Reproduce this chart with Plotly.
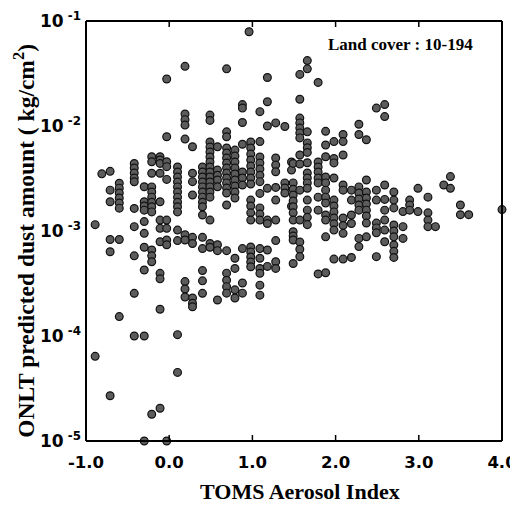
import math
import plotly.graph_objects as go

# TOMS Aerosol Index value for each vertical column of points
ai_columns = [-0.89, -0.81, -0.71, -0.60, -0.42, -0.30, -0.21, -0.11, -0.03, 0.10,
              0.19, 0.28, 0.40, 0.49, 0.58, 0.69, 0.79, 0.88, 0.96, 0.98,
              1.09, 1.18, 1.28, 1.39, 1.47, 1.49, 1.57, 1.66, 1.79, 1.88,
              1.98, 2.09, 2.19, 2.28, 2.37, 2.49, 2.59, 2.70, 2.81, 2.89,
              2.99, 3.11, 3.20, 3.30, 3.38, 3.50, 3.60, 4.00]

# ONLT predicted dust amount (kg/cm2) of the points in each column
dust_columns = [
    [1.15e-3, 6.4e-5],
    [3.5e-3],
    [3.7e-3, 2.45e-3, 1.9e-3, 8.3e-4, 6.35e-4, 2.7e-5],
    [2.85e-3, 2.56e-3, 2.3e-3, 2.06e-3, 1.85e-3, 1.65e-3, 8.3e-4, 1.53e-4],
    [4.4e-3, 3.98e-3, 3.57e-3, 3.2e-3, 2.94e-3, 1.64e-3, 1.1e-3, 5.8e-4, 2.55e-4, 1.0e-4],
    [2.64e-3, 1.9e-3, 1.73e-3, 1.58e-3, 1.23e-3, 9.5e-4, 7.0e-4, 4.25e-4, 1.0e-4, 1.0e-5],
    [5.1e-3, 4.57e-3, 3.55e-3, 2.63e-3, 2.35e-3, 2.1e-3, 1.88e-3, 1.7e-3, 1.52e-3,
     6.6e-4, 5.8e-4, 5.1e-4, 1.8e-5],
    [5.1e-3, 4.75e-3, 4.4e-3, 3.55e-3, 1.9e-3, 1.27e-3, 1.06e-3, 7.9e-4, 3.95e-4,
     3.5e-4, 1.8e-4, 2.05e-5],
    [2.8e-2, 7.9e-3, 4.57e-3, 4.1e-3, 3.1e-3, 1.27e-3, 1.06e-3, 8.2e-4, 7.4e-4, 1.0e-5],
    [4.07e-3, 3.65e-3, 3.27e-3, 2.93e-3, 2.63e-3, 2.35e-3, 2.1e-3, 1.88e-3, 1.7e-3,
     1.52e-3, 1.02e-3, 8.1e-4, 1.03e-4, 4.5e-5],
    [3.7e-2, 1.3e-2, 1.15e-2, 1.02e-2, 7.5e-3, 9.2e-4, 8.2e-4, 3.3e-4, 2.8e-4, 2.35e-4],
    [6.35e-3, 3.55e-3, 2.95e-3, 2.2e-3, 8.7e-4, 7.6e-4, 2.3e-4, 2.05e-4, 1.9e-4],
    [4.07e-3, 3.65e-3, 3.27e-3, 2.93e-3, 2.63e-3, 2.35e-3, 2.1e-3, 1.88e-3, 1.7e-3,
     1.42e-3, 8.7e-4, 6.8e-4, 4.2e-4, 3.35e-4, 2.55e-4],
    [1.27e-2, 1.13e-2, 7.04e-3, 6.3e-3, 5.65e-3, 5.07e-3, 4.54e-3, 4.07e-3, 3.65e-3,
     3.27e-3, 2.93e-3, 2.63e-3, 2.35e-3, 2.1e-3, 1.27e-3, 7.6e-4, 7.0e-4],
    [6.35e-3, 3.8e-3, 3.4e-3, 3.06e-3, 2.64e-3, 7.4e-4, 6.5e-4, 2.2e-4],
    [3.5e-2, 8.8e-3, 7.9e-3, 6.17e-3, 5.53e-3, 4.96e-3, 4.44e-3, 3.98e-3, 3.57e-3,
     3.2e-3, 2.87e-3, 2.57e-3, 2.3e-3, 1.77e-3, 6.5e-4, 3.97e-4, 3.4e-4, 2.95e-4, 2.56e-4],
    [5.9e-3, 5.18e-3, 4.54e-3, 3.98e-3, 3.49e-3, 3.06e-3, 2.68e-3, 2.35e-3, 2.06e-3,
     5.5e-4, 4.4e-4, 2.75e-4, 2.3e-4],
    [1.6e-2, 1.48e-2, 1.08e-2, 6.7e-3, 3.65e-3, 3.2e-3, 2.74e-3, 6.8e-4, 3.2e-4, 2.56e-4],
    [7.9e-2],
    [7.04e-3, 6.17e-3, 5.4e-3, 4.75e-3, 4.16e-3, 3.65e-3, 3.2e-3, 2.8e-3, 1.97e-3,
     1.73e-3, 1.49e-3, 1.27e-3, 7.05e-4, 6.3e-4, 5.65e-4, 5.07e-4, 4.57e-4],
    [1.37e-2, 7.1e-3, 5.07e-3, 4.44e-3, 3.9e-3, 3.4e-3, 2.95e-3, 2.28e-3, 1.66e-3,
     1.45e-3, 1.27e-3, 6.8e-4, 5.5e-4, 4.4e-4, 3.95e-4, 3.05e-4, 2.45e-4],
    [2.9e-2, 1.7e-2, 1.0e-2, 2.55e-3, 1.27e-3, 1.18e-3, 6.6e-4, 4.6e-4],
    [1.07e-2, 4.96e-3, 4.25e-3, 3.67e-3, 2.6e-3, 1.97e-3, 1.27e-3, 8.1e-4, 5.1e-4, 4.4e-4],
    [9.9e-3, 2.87e-3, 2.57e-3, 2.3e-3],
    [4.54e-3, 3.8e-3, 1.72e-3],
    [4.4e-3, 2.87e-3, 2.5e-3, 2.2e-3, 1.93e-3, 1.7e-3, 1.49e-3, 1.27e-3, 9.85e-4,
     8.95e-4, 8.2e-4, 4.9e-4],
    [3.1e-2, 1.8e-2, 1.19e-2, 1.07e-2, 9.55e-3, 8.6e-3, 7.7e-3, 5.3e-3, 4.35e-3,
     2.45e-3, 1.27e-3, 7.85e-4, 6.7e-4, 5.7e-4],
    [4.2e-2, 3.5e-2, 8.8e-3, 6.9e-3, 6.2e-3, 5.6e-3, 4.47e-3, 3.57e-3, 3.2e-3, 2.87e-3,
     2.55e-3, 1.97e-3, 1.58e-3, 1.35e-3, 1.15e-3],
    [2.6e-2, 4.54e-3, 4.07e-3, 3.65e-3, 3.2e-3, 2.87e-3, 2.1e-3, 1.58e-3, 3.9e-4],
    [8.9e-3, 6.6e-3, 5.1e-3, 3.27e-3, 2.87e-3, 2.45e-3, 2.1e-3, 1.85e-3, 1.42e-3,
     1.27e-3, 8.8e-4, 4.0e-4],
    [7.1e-3, 4.9e-3, 4.45e-3, 3.2e-3, 1.97e-3, 1.73e-3, 1.52e-3, 1.33e-3, 1.17e-3,
     1.02e-3, 5.4e-4],
    [8.3e-3, 7.1e-3, 5.3e-3, 2.74e-3, 2.45e-3, 1.33e-3, 1.13e-3, 9.5e-4, 5.4e-4],
    [2.45e-3, 1.97e-3, 1.42e-3, 1.18e-3, 5.6e-4],
    [1.04e-2, 8.3e-3, 2.63e-3, 2.3e-3, 2.02e-3, 1.77e-3, 1.58e-3, 8.5e-4, 7.1e-4],
    [7.4e-3, 3.06e-3, 2.35e-3, 2.06e-3, 1.81e-3, 1.58e-3, 1.39e-3, 1.19e-3, 8.8e-4],
    [1.48e-2, 2.45e-3, 1.97e-3, 1.19e-3, 1.07e-3, 9.6e-4, 5.7e-4],
    [1.6e-2, 1.23e-2, 2.74e-3, 2.0e-3, 1.58e-3, 1.27e-3, 1.02e-3, 7.9e-4],
    [2.35e-3, 1.97e-3, 1.66e-3, 1.14e-3, 1.0e-3, 8.8e-4, 7.35e-4, 6.4e-4, 5.6e-4],
    [1.53e-3, 1.1e-3, 8.5e-4],
    [1.97e-3, 1.77e-3, 1.58e-3],
    [2.55e-3, 1.53e-3],
    [2.1e-3, 1.49e-3, 1.27e-3, 1.1e-3],
    [1.1e-3],
    [2.74e-3],
    [3.3e-3, 2.55e-3],
    [1.77e-3, 1.43e-3],
    [1.43e-3],
    [1.6e-3],
]

x_tick_vals = [-1, 0, 1, 2, 3, 4]
x_tick_text = ["<b>%s</b>" % t for t in ["-1.0", "0.0", "1.0", "2.0", "3.0", "4.0"]]
y_decades = [-5, -4, -3, -2, -1]
y_tick_vals = [10.0 ** d for d in y_decades]
y_tick_text = ["<b>10<sup> %d</sup></b>" % d for d in y_decades]
y_minor_vals = [m * 10.0 ** d for d in y_decades[:-1] for m in range(2, 10)]

xs, ys = [], []
for ai, col in zip(ai_columns, dust_columns):
    for v in col:
        xs.append(ai)
        ys.append(v)

fig = go.Figure()
fig.add_trace(go.Scatter(
    x=xs, y=ys, mode="markers", cliponaxis=False,
    marker=dict(size=7.8, color="#5c5c5c", line=dict(color="#111111", width=1.2)),
    showlegend=False,
))

# frame and tick marks as line shapes (ticks anchored on the axis values)
ink = dict(color="black", width=2)
shapes = [
    dict(type="line", xref="paper", yref="paper", x0=0, x1=1, y0=0, y1=0, line=ink),
    dict(type="line", xref="paper", yref="paper", x0=0, x1=1, y0=1, y1=1, line=ink),
    dict(type="line", xref="paper", yref="paper", x0=0, x1=0, y0=0, y1=1, line=ink),
    dict(type="line", xref="paper", yref="paper", x0=1, x1=1, y0=0, y1=1, line=ink),
]
for xv in x_tick_vals[1:-1]:
    for anchor, sign in ((0, 1), (1, -1)):
        shapes.append(dict(type="line", xref="x", yref="paper", ysizemode="pixel",
                           yanchor=anchor, x0=xv, x1=xv, y0=0, y1=6 * sign,
                           line=dict(color="black", width=1.5)))
for yv, ln, w in ([(v, 7, 1.5) for v in y_tick_vals[1:-1]] +
                  [(v, 4, 1.0) for v in y_minor_vals]):
    for anchor, sign in ((0, 1), (1, -1)):
        shapes.append(dict(type="line", xref="paper", yref="y", xsizemode="pixel",
                           xanchor=anchor, x0=0, x1=ln * sign,
                           y0=math.log10(yv), y1=math.log10(yv),
                           line=dict(color="black", width=w)))

# the page body has an 8px default margin, so the figure is 8px smaller
fig.update_layout(
    width=510, height=507,
    margin=dict(l=78, r=15.5, t=13, b=73.5, pad=0),
    paper_bgcolor="white", plot_bgcolor="white",
    xaxis=dict(
        range=[-1, 4], tickmode="array", tickvals=x_tick_vals, ticktext=x_tick_text,
        ticks="", showline=False, showgrid=False, zeroline=False,
        tickfont=dict(family="DejaVu Sans", size=16.5, color="black"),
        ticklabelstandoff=9, automargin=False,
    ),
    yaxis=dict(
        type="log", range=[-5, -1], tickmode="array", tickvals=y_tick_vals,
        ticktext=y_tick_text, ticks="", showline=False, showgrid=False,
        zeroline=False, tickfont=dict(family="DejaVu Sans", size=17, color="black"),
        ticklabelstandoff=4, automargin=False,
    ),
    shapes=shapes,
    annotations=[
        dict(text="<b>Land cover : 10-194</b>", x=0.756, y=0.943, xref="paper",
             yref="paper", showarrow=False, xanchor="center", yanchor="middle",
             font=dict(family="Liberation Serif", size=17, color="black")),
        dict(text="<b>TOMS Aerosol Index</b>", x=0.514, y=-0.12, xref="paper",
             yref="paper", showarrow=False, xanchor="center", yanchor="middle",
             font=dict(family="Liberation Serif", size=22, color="black")),
        dict(text="<b>ONLT predicted dust amount ( kg/cm<sup>2</sup>)</b>",
             x=-0.148, y=0.478, xref="paper", yref="paper", showarrow=False,
             textangle=-90, xanchor="center", yanchor="middle",
             font=dict(family="Liberation Serif", size=23.5, color="black")),
    ],
)

fig.write_html("out.html")
